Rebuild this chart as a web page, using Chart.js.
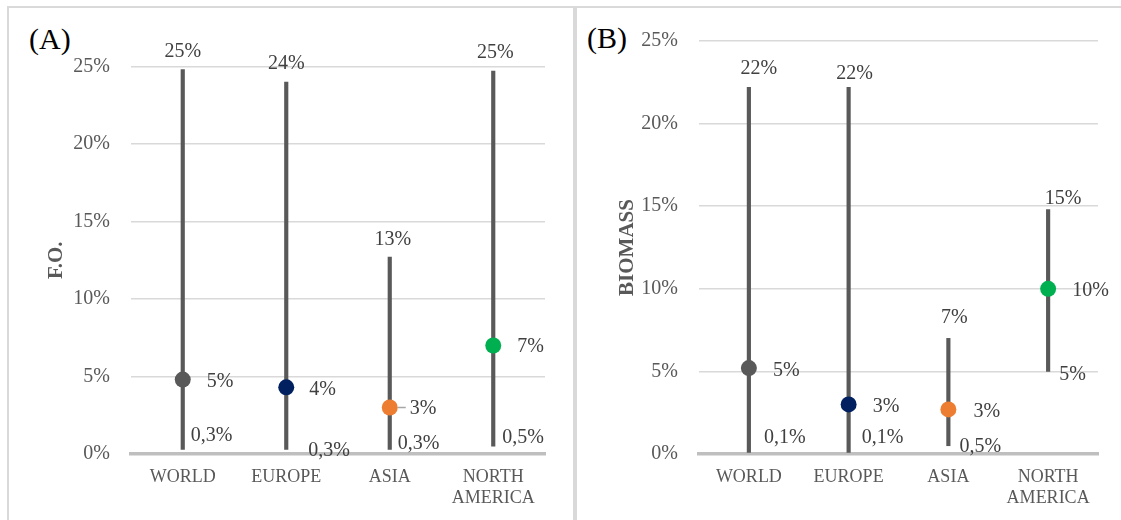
<!DOCTYPE html>
<html>
<head>
<meta charset="utf-8">
<script src="https://cdn.jsdelivr.net/npm/chart.js@4"></script>
<style>
  body { margin: 0; background: #fff; width: 1121px; height: 520px; overflow: hidden; position: relative; }
  .line { position: absolute; background: #d9d9d9; }
  .tag { position: absolute; font-family: "Liberation Serif", serif; font-size: 30px; line-height: 30px; color: #000; }
  canvas { position: absolute; }
</style>
</head>
<body>
<div class="line" style="left:7px; top:6px; width:1114px; height:1.5px;"></div>
<div class="line" style="left:7px; top:6px; width:1.5px; height:514px;"></div>
<div class="line" style="left:573px; top:6px; width:4px; height:514px;"></div>
<div class="tag" style="left:29px; top:24px;">(A)</div>
<div class="tag" style="left:587px; top:23px;">(B)</div>
<canvas id="ChartA" width="564" height="512" style="left:9px; top:8px;"></canvas>
<canvas id="ChartB" width="543" height="512" style="left:578px; top:8px;"></canvas>
<script>
const categories = ['WORLD', 'EUROPE', 'ASIA', ['NORTH', 'AMERICA']];
const dotColors = ['#595959', '#002060', '#ED7D31', '#00B050'];

// (A) frequency of occurrence, %
const foMin = [0.3, 0.3, 0.3, 0.5];
const foMax = [24.8, 24.0, 12.7, 24.7];
const foMean = [4.8, 4.3, 3.0, 7.0];

// (B) biomass, %
const bioMin = [0.1, 0.1, 0.5, 5.0];
const bioMax = [22.2, 22.2, 7.0, 14.8];
const bioMean = [5.2, 3.0, 2.7, 10.0];

const yTicks = [0, 5, 10, 15, 20, 25];

// label nudges in px [dx, dy] for each category
const nudgeA = {
    max: [[0, -18], [0, -18], [3, -17], [2, -18]],
    mean: [[24, 2], [23, 2], [20, 1], [24, 1]],
    min: [[8, -14], [22, 1], [8, -6], [9, -9]],
    leader: [false, false, true, false]
};
const nudgeB = {
    max: [[10, -19], [6, -14], [6, -21], [15, -11]],
    mean: [[24, 3], [24, 2], [25, 2], [24, 2]],
    min: [[15, -15], [13, -15], [11, 1], [11, 3]],
    leader: [false, false, false, false]
};

const serif = 'Liberation Serif';

function fmt(v)
{
    if (v < 1) return v.toFixed(1).replace('.', ',') + '%';
    return Math.round(v) + '%';
}

const valueLabels = {
    id: 'valueLabels',
    afterDraw(chart, args, opts)
    {
        const ctx = chart.ctx;
        const x = chart.scales.x, y = chart.scales.y;
        ctx.save();
        ctx.font = '20px ' + serif;
        ctx.fillStyle = '#404040';
        ctx.textBaseline = 'middle';
        opts.means.forEach((m, i) => {
            const px = x.getPixelForValue(i);
            const n = opts.nudge;
            ctx.textAlign = 'center';
            ctx.fillText(fmt(opts.maxs[i]), px + n.max[i][0], y.getPixelForValue(opts.maxs[i]) + n.max[i][1]);
            ctx.textAlign = 'left';
            ctx.fillText(fmt(m), px + n.mean[i][0], y.getPixelForValue(m) + n.mean[i][1]);
            ctx.fillText(fmt(opts.mins[i]), px + n.min[i][0], y.getPixelForValue(opts.mins[i]) + n.min[i][1]);
            if (n.leader[i]) {
                ctx.strokeStyle = '#a6a6a6';
                ctx.lineWidth = 1.5;
                ctx.beginPath();
                ctx.moveTo(px + 8, y.getPixelForValue(m));
                ctx.lineTo(px + n.mean[i][0] - 4, y.getPixelForValue(m));
                ctx.stroke();
            }
        });
        ctx.restore();
    }
};

function MakeChart(id, title, mins, maxs, means, nudge, pad, yWidth, titlePad)
{
    const ctx = document.getElementById(id).getContext('2d');
    return new Chart(ctx, {
        type: 'bar',
        data: {
            labels: categories,
            datasets: [
                {
                    type: 'line',
                    data: means,
                    showLine: false,
                    pointRadius: 8,
                    pointHoverRadius: 8,
                    pointBackgroundColor: dotColors,
                    pointBorderWidth: 0,
                    order: 0
                },
                {
                    type: 'bar',
                    data: mins.map((m, i) => [m, maxs[i]]),
                    backgroundColor: '#595959',
                    barThickness: 3.5,
                    borderSkipped: false,
                    order: 1
                }
            ]
        },
        options: {
            responsive: false,
            animation: false,
            events: [],
            layout: { padding: pad },
            plugins: {
                legend: { display: false },
                tooltip: { enabled: false },
                valueLabels: { mins: mins, maxs: maxs, means: means, nudge: nudge }
            },
            scales: {
                x: {
                    grid: { display: false },
                    border: { display: true, color: '#bfbfbf', width: 3.5 },
                    ticks: { color: '#595959', font: { family: serif, size: 18, lineHeight: 1.2 }, padding: 4, maxRotation: 0 },
                    afterFit: s => { s.height = 66; }
                },
                y: {
                    min: 0,
                    max: 25,
                    afterBuildTicks: s => { s.ticks = yTicks.map(v => ({ value: v })); },
                    ticks: { callback: v => v + '%', color: '#595959', font: { family: serif, size: 20 }, padding: 21 },
                    grid: { color: '#d9d9d9', lineWidth: 1.5, drawTicks: false },
                    border: { display: false },
                    title: {
                        display: true,
                        text: title,
                        color: '#595959',
                        font: { family: serif, size: 21, weight: 'bold' },
                        padding: { top: titlePad, bottom: 0 }
                    },
                    afterFit: s => { s.width = yWidth; }
                }
            }
        },
        plugins: [valueLabels]
    });
}

MakeChart('ChartA', 'F.O.', foMin, foMax, foMean, nudgeA, { top: 58.5, right: 28, bottom: 0, left: 0 }, 122, 35);
MakeChart('ChartB', 'BIOMASS', bioMin, bioMax, bioMean, nudgeB, { top: 28.5, right: 23, bottom: 0, left: 0 }, 121, 37);
</script>
</body>
</html>
